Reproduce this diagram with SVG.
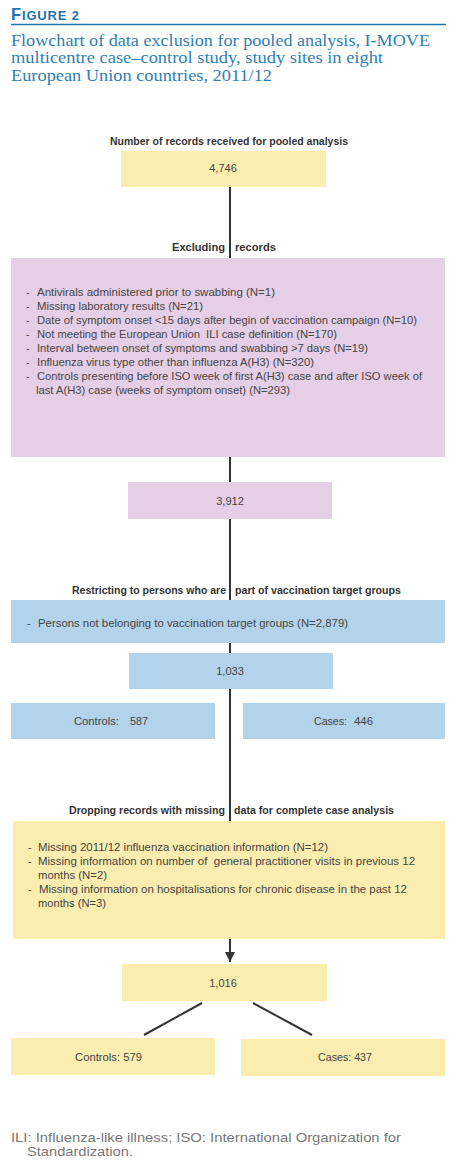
<svg xmlns="http://www.w3.org/2000/svg" width="466" height="1164" viewBox="0 0 466 1164">
<style>
.t{font-family:"Liberation Sans",Arial,sans-serif;fill:#444}
.h{font-family:"Liberation Sans",Arial,sans-serif;font-weight:bold;font-size:10.5px;fill:#333}
.b{font-size:11px}
.n{font-size:11px}
.y{fill:#fbedb0}
.p{fill:#e4cfe6}
.u{fill:#b3d3ea}
.c{stroke:#333;stroke-width:2;fill:none}
</style>
<defs>
<marker id="ah" viewBox="0 0 10 10" refX="10" refY="5" markerWidth="5" markerHeight="5" orient="auto" markerUnits="strokeWidth">
<path d="M0,0 L10,5 L0,10 z" fill="#333"/>
</marker>
</defs>
<g id="title">
<text x="11" y="20" font-family="'Liberation Sans',Arial,sans-serif" font-weight="bold" fill="#1e74b0" textLength="68" lengthAdjust="spacing"><tspan font-size="16.5">F</tspan><tspan font-size="13">IGURE 2</tspan></text>
<line x1="11" y1="24.5" x2="446" y2="24.5" stroke="#1e74b0" stroke-width="1.5"/>
<g font-family="'Liberation Serif','Times New Roman',serif" font-size="17" fill="#2f80b8">
<text x="11" y="45.5" textLength="419" lengthAdjust="spacingAndGlyphs">Flowchart of data exclusion for pooled analysis, I-MOVE</text>
<text x="11" y="63" textLength="372" lengthAdjust="spacingAndGlyphs">multicentre case–control study, study sites in eight</text>
<text x="11" y="81" textLength="261" lengthAdjust="spacingAndGlyphs">European Union countries, 2011/12</text>
</g>
</g>
<g id="connectors">
<line class="c" x1="230" y1="187" x2="230" y2="258"/>
<line class="c" x1="230" y1="457" x2="230" y2="482"/>
<line class="c" x1="230" y1="519" x2="230" y2="600"/>
<line class="c" x1="230" y1="643" x2="230" y2="653"/>
<line class="c" x1="230" y1="689" x2="230" y2="821"/>
<line class="c" x1="230" y1="939" x2="230" y2="962" marker-end="url(#ah)"/>
<line class="c" x1="202" y1="1003" x2="144" y2="1035"/>
<line class="c" x1="253" y1="1003" x2="312" y2="1035"/>
</g>
<g id="n1">
<text class="h" x="110" y="145" textLength="238" lengthAdjust="spacingAndGlyphs">Number of records received for pooled analysis</text>
<rect class="y" x="121" y="151" width="205" height="36"/>
<text class="t n" x="223" y="172" text-anchor="middle">4,746</text>
</g>
<g id="n2">
<text class="h" x="172" y="251" textLength="53" lengthAdjust="spacingAndGlyphs">Excluding</text>
<text class="h" x="235" y="251" textLength="41" lengthAdjust="spacingAndGlyphs">records</text>
<rect class="p" x="11" y="258" width="434" height="199"/>
<g class="t b" lengthAdjust="spacingAndGlyphs">
<text x="26" y="296">-</text><text x="37" y="296" textLength="238" lengthAdjust="spacingAndGlyphs">Antivirals administered prior to swabbing (N=1)</text>
<text x="26" y="310">-</text><text x="37" y="310" textLength="166" lengthAdjust="spacingAndGlyphs">Missing laboratory results (N=21)</text>
<text x="26" y="324">-</text><text x="37" y="324" textLength="380" lengthAdjust="spacingAndGlyphs">Date of symptom onset &lt;15 days after begin of vaccination campaign (N=10)</text>
<text x="26" y="338">-</text><text x="37" y="338" textLength="300" lengthAdjust="spacingAndGlyphs" xml:space="preserve">Not meeting the European Union  ILI case definition (N=170)</text>
<text x="26" y="352">-</text><text x="37" y="352" textLength="331" lengthAdjust="spacingAndGlyphs">Interval between onset of symptoms and swabbing &gt;7 days (N=19)</text>
<text x="26" y="366">-</text><text x="37" y="366" textLength="277" lengthAdjust="spacingAndGlyphs">Influenza virus type other than influenza A(H3) (N=320)</text>
<text x="26" y="380">-</text><text x="37" y="380" textLength="385" lengthAdjust="spacingAndGlyphs">Controls presenting before ISO week of first A(H3) case and after ISO week of</text>
<text x="36" y="394" textLength="254" lengthAdjust="spacingAndGlyphs">last A(H3) case (weeks of symptom onset) (N=293)</text>
</g>
</g>
<g id="n3">
<rect class="p" x="128" y="482" width="204" height="37"/>
<text class="t n" x="230" y="505" text-anchor="middle">3,912</text>
</g>
<g id="n4">
<text class="h" x="72" y="594" textLength="154" lengthAdjust="spacingAndGlyphs">Restricting to persons who are</text>
<text class="h" x="235" y="594" textLength="166" lengthAdjust="spacingAndGlyphs">part of vaccination target groups</text>
<rect class="u" x="11" y="600" width="434" height="43"/>
<text class="t b" x="27" y="627">-</text><text class="t b" x="38" y="627" textLength="310" lengthAdjust="spacingAndGlyphs">Persons not belonging to vaccination target groups (N=2,879)</text>
</g>
<g id="n5">
<rect class="u" x="129" y="653" width="204" height="36"/>
<text class="t n" x="230" y="675" text-anchor="middle">1,033</text>
</g>
<g id="n6">
<rect class="u" x="11" y="703" width="204" height="36"/>
<text class="t n" x="74" y="725" textLength="45" lengthAdjust="spacingAndGlyphs">Controls:</text>
<text class="t n" x="130" y="725" textLength="18" lengthAdjust="spacingAndGlyphs">587</text>
</g>
<g id="n7">
<rect class="u" x="243" y="703" width="202" height="36"/>
<text class="t n" x="314" y="725" textLength="33" lengthAdjust="spacingAndGlyphs">Cases:</text>
<text class="t n" x="354" y="725" textLength="19" lengthAdjust="spacingAndGlyphs">446</text>
</g>
<g id="n8">
<text class="h" x="69" y="814" textLength="156" lengthAdjust="spacingAndGlyphs">Dropping records with missing</text>
<text class="h" x="234" y="814" textLength="160" lengthAdjust="spacingAndGlyphs">data for complete case analysis</text>
<rect class="y" x="13" y="821" width="432" height="118"/>
<g class="t b">
<text x="28" y="851">-</text><text x="38" y="851" textLength="290" lengthAdjust="spacingAndGlyphs">Missing 2011/12 influenza vaccination information (N=12)</text>
<text x="28" y="865">-</text><text x="38" y="865" textLength="377" lengthAdjust="spacingAndGlyphs" xml:space="preserve">Missing information on number of  general practitioner visits in previous 12</text>
<text x="38" y="879" textLength="69" lengthAdjust="spacingAndGlyphs">months (N=2)</text>
<text x="28" y="893">-</text><text x="39" y="893" textLength="368" lengthAdjust="spacingAndGlyphs">Missing information on hospitalisations for chronic disease in the past 12</text>
<text x="38" y="907" textLength="68" lengthAdjust="spacingAndGlyphs">months (N=3)</text>
</g>
</g>
<g id="n9">
<rect class="y" x="122" y="964" width="205" height="37"/>
<text class="t n" x="223" y="987" text-anchor="middle">1,016</text>
</g>
<g id="n10">
<rect class="y" x="11" y="1038" width="204" height="37"/>
<text class="t n" x="75" y="1061" textLength="67" lengthAdjust="spacingAndGlyphs">Controls: 579</text>
</g>
<g id="n11">
<rect class="y" x="241" y="1039" width="204" height="37"/>
<text class="t n" x="318" y="1061" textLength="54" lengthAdjust="spacingAndGlyphs">Cases: 437</text>
</g>
<g id="footnote" font-family="'Liberation Sans',Arial,sans-serif" font-size="13" fill="#777">
<text x="11" y="1142" textLength="390" lengthAdjust="spacingAndGlyphs">ILI: Influenza-like illness; ISO: International Organization for</text>
<text x="27" y="1156" textLength="106" lengthAdjust="spacingAndGlyphs">Standardization.</text>
</g>
</svg>
